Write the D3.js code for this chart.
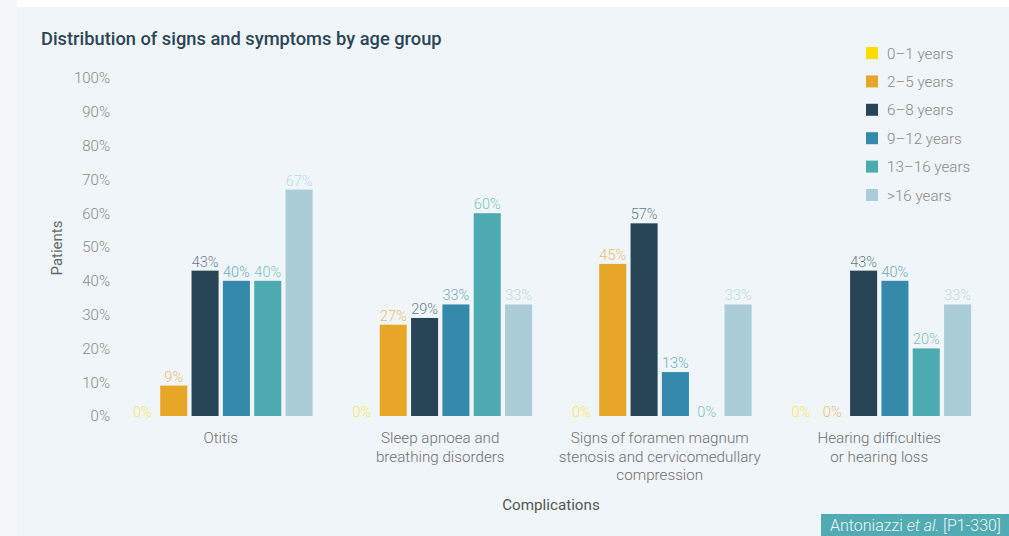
<!DOCTYPE html>
<html>
<head>
<meta charset="utf-8">
<script src="https://cdn.jsdelivr.net/npm/d3@7"></script>
<style>
  body { margin: 0; background: #fff; }
  svg { display: block; font-family: Roboto, 'Noto Sans', sans-serif; }
</style>
</head>
<body>
<div id="main-content"></div>
<script>
'use strict'

const categories = [
	['Otitis'],
	['Sleep apnoea and', 'breathing disorders'],
	['Signs of foramen magnum', 'stenosis and cervicomedullary', 'compression'],
	['Hearing difficulties', 'or hearing loss']
]
const ageGroups = ['0–1 years', '2–5 years', '6–8 years', '9–12 years', '13–16 years', '>16 years']
const colors = ['#ffdd00', '#e8a628', '#274556', '#358aab', '#4eaab1', '#abcdd8']
// one array per age group, values per category (%)
const values = [
	[0, 0, 0, 0],
	[9, 27, 45, 0],
	[43, 29, 57, 43],
	[40, 33, 13, 40],
	[40, 60, 0, 20],
	[67, 33, 33, 33]
]
const yTicks = [0, 10, 20, 30, 40, 50, 60, 70, 80, 90, 100]

const width = 1009,
		height = 536

const svg = d3.select('#main-content').append('svg')
	.attr('width', width)
	.attr('height', height)

// page + panel background
svg.append('rect').attr('x', 0).attr('y', 0).attr('width', 17).attr('height', height).attr('fill', '#f6f7f8')
svg.append('rect').attr('x', 17).attr('y', 7).attr('width', width - 17).attr('height', height - 7).attr('fill', '#eff5f8')

svg.append('text')
	.attr('x', 41).attr('y', 45)
	.attr('fill', '#2b4556')
	.attr('font-size', 18.3)
	.attr('font-weight', 500)
	.text('Distribution of signs and symptoms by age group')

const y = d3.scaleLinear().domain([0, 100]).range([416, 78])

const x0 = d3.scaleBand()
	.domain(d3.range(categories.length))
	.range([111, 989])
	.paddingInner(0.1435)
	.paddingOuter(0.0717)

const x1 = d3.scaleBand()
	.domain(d3.range(ageGroups.length))
	.range([0, x0.bandwidth()])
	.paddingInner(0.137)
	.paddingOuter(0.0685)

// y axis labels
const yAxis = svg.append('g')
	.attr('transform', 'translate(110,0)')
	.call(d3.axisLeft(y).tickValues(yTicks).tickSize(0).tickPadding(0).tickFormat(d => d + '%'))
yAxis.select('.domain').remove()
yAxis.selectAll('text')
	.attr('fill', '#8a8a8a')
	.attr('font-size', 15)
	.attr('font-family', 'Roboto, sans-serif')
	.attr('font-weight', 300)

svg.append('text')
	.attr('transform', 'translate(62,248) rotate(-90)')
	.attr('text-anchor', 'middle')
	.attr('fill', '#666')
	.attr('font-size', 15)
	.text('Patients')

// bars
const groups = svg.append('g')
	.selectAll('g')
	.data(categories)
	.enter().append('g')
		.attr('transform', (d, i) => 'translate(' + x0(i) + ',0)')

groups.each(function(cat, ci) {
	const g = d3.select(this)
	const rows = ageGroups.map((a, ai) => ({ ai: ai, v: values[ai][ci] }))

	g.selectAll('rect')
		.data(rows.filter(d => d.v > 0))
		.enter().append('rect')
			.attr('x', d => x1(d.ai))
			.attr('y', d => y(d.v))
			.attr('width', x1.bandwidth())
			.attr('height', d => y(0) - y(d.v))
			.attr('fill', d => colors[d.ai])

	g.selectAll('text.val')
		.data(rows)
		.enter().append('text')
			.attr('class', 'val')
			.attr('x', d => x1(d.ai) + x1.bandwidth() / 2)
			.attr('y', d => d.v > 0 ? y(d.v) - 4 : y(0) + 1)
			.attr('text-anchor', 'middle')
			.attr('fill', d => colors[d.ai])
			.attr('fill-opacity', 0.72)
			.attr('font-size', 14.5)
			.attr('font-weight', 300)
			.text(d => d.v + '%')

	const lbl = g.append('text')
		.attr('text-anchor', 'middle')
		.attr('fill', '#707070')
		.attr('font-size', 15.2)
		.attr('font-weight', 300)
	cat.forEach((line, li) => {
		lbl.append('tspan')
			.attr('x', x0.bandwidth() / 2)
			.attr('y', 443 + li * 18.5)
			.text(line)
	})
})

svg.append('text')
	.attr('x', 551).attr('y', 510)
	.attr('text-anchor', 'middle')
	.attr('fill', '#555')
	.attr('font-size', 15.2)
	.text('Complications')

// legend
const legend = svg.append('g')
	.selectAll('g')
	.data(ageGroups)
	.enter().append('g')
		.attr('transform', (d, i) => 'translate(866,' + (47 + i * 28.4) + ')')

legend.append('rect')
	.attr('width', 12).attr('height', 12)
	.attr('fill', (d, i) => colors[i])

legend.append('text')
	.attr('x', 21).attr('y', 11.5)
	.attr('fill', '#8a8a8a')
	.attr('font-size', 15.2)
	.attr('font-weight', 300)
	.text(d => d)

// source box
svg.append('rect')
	.attr('x', 821).attr('y', 514)
	.attr('width', width - 821).attr('height', 22)
	.attr('fill', '#52aab2')

const src = svg.append('text')
	.attr('x', 830).attr('y', 531)
	.attr('fill', '#eef7f8')
	.attr('font-size', 16)
	.attr('font-weight', 300)
src.append('tspan').text('Antoniazzi ')
src.append('tspan').attr('font-style', 'italic').text('et al.')
src.append('tspan').text(' [P1-330]')
</script>
</body>
</html>
